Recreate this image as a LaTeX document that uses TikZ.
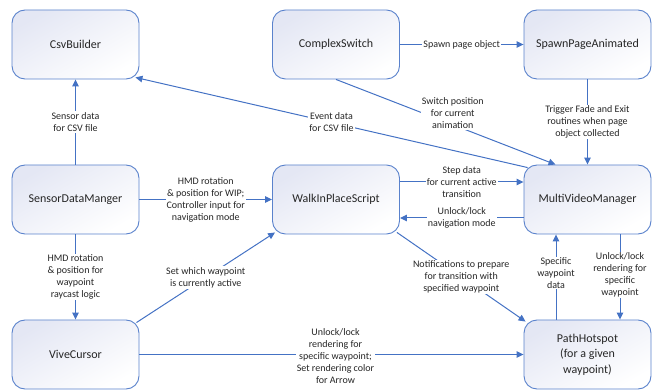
\documentclass[tikz,border=0pt]{standalone}
\usepackage{fontspec}
\setmainfont{Carlito}
\usetikzlibrary{arrows.meta}
\definecolor{edgeblue}{HTML}{4472C4}
\definecolor{boxblue}{HTML}{5A82CC}
\definecolor{boxfill}{HTML}{E4E7F4}
\definecolor{txt}{HTML}{262626}
\tikzset{
  block/.style={draw=boxblue, line width=0.9pt, rounded corners=13pt,
    minimum width=127pt, minimum height=69pt, inner sep=2pt,
    shading=axis, top color=boxfill, bottom color=white, shading angle=30,
    font=\fontsize{12}{15.5}\selectfont, text=txt, align=center},
  conn/.style={draw=edgeblue, line width=1pt, -{Triangle[length=7pt,width=6.5pt]}},
  lbl/.style={fill=white, inner sep=1pt, font=\fontsize{10}{12}\selectfont,
    text=txt, align=center}
}
\begin{document}
\begin{tikzpicture}[x=1pt,y=-1pt]
\useasboundingbox (0,0) rectangle (654,390);
% nodes
\node[block] (csv)  at (75.5,44.5)  {CsvBuilder};
\node[block] (cs)   at (336,44.5)   {ComplexSwitch};
\node[block] (spa)  at (587.5,44.5) {SpawnPageAnimated};
\node[block] (sdm)  at (75.5,199.5) {SensorDataManger};
\node[block] (wips) at (336,199.5)  {WalkInPlaceScript};
\node[block] (mvm)  at (587.5,199.5){MultiVideoManager};
\node[block] (vc)   at (75.5,354.5) {ViveCursor};
\node[block] (ph)   at (587.5,354.5){PathHotspot\\(for a given\\waypoint)};
% connectors
\draw[conn] (sdm.north) -- node[lbl]{Sensor data\\for CSV file} (csv.south);
\draw[conn] ([shift={(4pt,-3pt)}]mvm.north west) -- node[lbl,pos=0.5]{Event data\\for CSV file} ([shift={(-4pt,2pt)}]csv.south east);
\draw[conn] (cs.east) -- node[lbl]{Spawn page object} (spa.west);
\draw[conn] (cs.south) -- node[lbl,xshift=7pt,yshift=9pt]{Switch position\\for current\\animation} ([xshift=-32pt]mvm.north);
\draw[conn] (spa.south) -- node[lbl]{Trigger Fade and Exit\\routines when page\\object collected} (mvm.north);
\draw[conn] (sdm.east) -- node[lbl]{HMD rotation\\\& position for WIP;\\Controller input for\\navigation mode} (wips.west);
\draw[conn] ([yshift=17.5pt]wips.east) -- node[lbl]{Step data\\for current active\\transition} ([yshift=17.5pt]mvm.west);
\draw[conn] ([yshift=-18.5pt]mvm.west) -- node[lbl,yshift=0.5pt]{Unlock/lock\\navigation mode} ([yshift=-18.5pt]wips.east);
\draw[conn] (sdm.south) -- node[lbl]{HMD rotation\\\& position for\\waypoint\\raycast logic} (vc.north);
\draw[conn] ([shift={(-3pt,-3pt)}]vc.north east) -- node[lbl]{Set which waypoint\\is currently active} ([shift={(3pt,2pt)}]wips.south west);
\draw[conn] ([shift={(-3pt,2pt)}]wips.south east) -- node[lbl]{Notifications to prepare\\for transition with\\specified waypoint} ([shift={(2pt,-2pt)}]ph.north west);
\draw[conn] ([xshift=-31.5pt]ph.north) -- node[lbl,yshift=4pt]{Specific\\waypoint\\data} ([xshift=-31.5pt]mvm.south);
\draw[conn] ([xshift=32.5pt]mvm.south) -- node[lbl,yshift=2pt]{Unlock/lock\\rendering for\\specific\\waypoint} ([xshift=32.5pt]ph.north);
\draw[conn] (vc.east) -- node[lbl,xshift=4pt,yshift=-2pt]{Unlock/lock\\rendering for\\specific waypoint;\\Set rendering color\\for Arrow} (ph.west);
\end{tikzpicture}
\end{document}
